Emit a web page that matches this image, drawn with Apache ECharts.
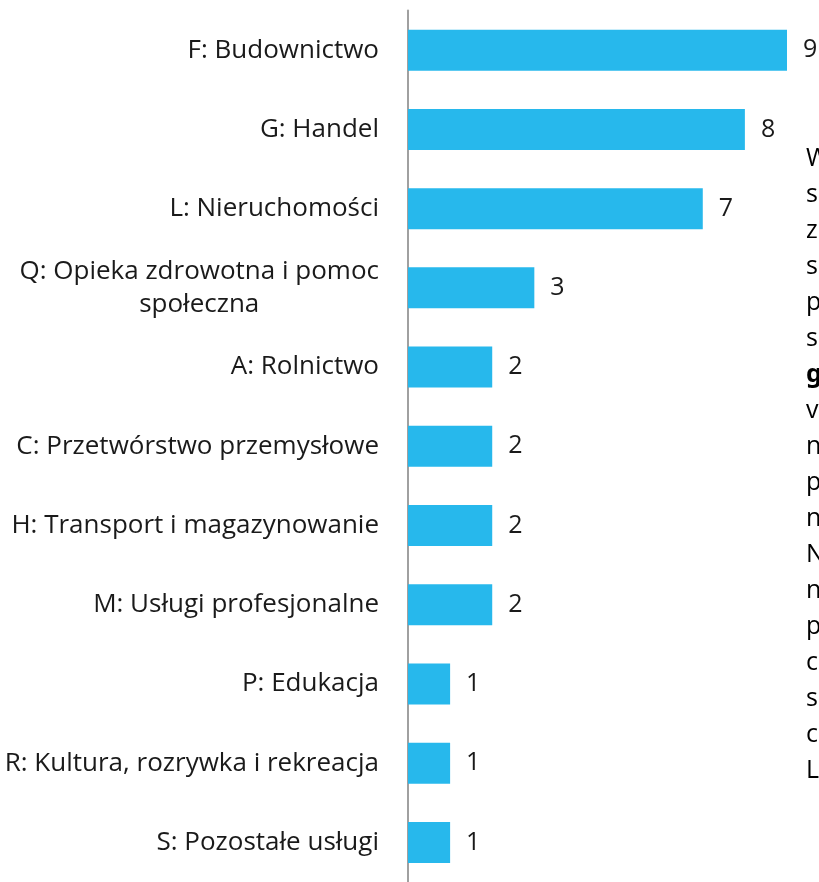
<!DOCTYPE html>
<html>
<head>
<meta charset="utf-8">
<script src="https://cdn.jsdelivr.net/npm/echarts@6/dist/echarts.min.js"></script>
<style>
  html, body { margin: 0; padding: 0; background: #fff; }
  #chart { width: 819px; height: 882px; }
</style>
</head>
<body>
<div id="chart"></div>
<script>
// sekcje PKD i liczba podmiotów
const categories = [
  'F: Budownictwo',
  'G: Handel',
  'L: Nieruchomości',
  'Q: Opieka zdrowotna i pomoc\nspołeczna',
  'A: Rolnictwo',
  'C: Przetwórstwo przemysłowe',
  'H: Transport i magazynowanie',
  'M: Usługi profesjonalne',
  'P: Edukacja',
  'R: Kultura, rozrywka i rekreacja',
  'S: Pozostałe usługi'
];
const counts = [9, 8, 7, 3, 2, 2, 2, 2, 1, 1, 1];

// ucięty tekst dokumentu po prawej stronie
const sideLines = ['W', 's', 'z', 's', 'p', 's', 'g', 'v', 'n', 'p', 'n', 'N', 'n', 'p', 'c', 's', 'c', 'L'];

const FONT = 'Open Sans';

const chart = echarts.init(document.getElementById('chart'));

const sideText = sideLines
  .map((t, i) => (i < 6 ? '{k|' + t + '}' : i === 6 ? '{b|' + t + '}' : '{n|' + t + '}'))
  .join('\n');

chart.setOption({
  animation: false,
  grid: { left: 408, right: 32, top: 10.6, bottom: -6, containLabel: false },
  xAxis: {
    type: 'value',
    min: 0,
    max: 9,
    show: false
  },
  yAxis: {
    type: 'category',
    data: categories,
    inverse: true,
    axisLine: { show: true, lineStyle: { color: '#a0a0a0', width: 2 } },
    axisTick: { show: false },
    axisLabel: {
      margin: 29,
      fontFamily: FONT,
      fontSize: 26,
      color: '#1a1a1a',
      lineHeight: 33,
      formatter: (v) => v.split('\n').map((s) => '{c|' + s + '}').join('\n'),
      rich: {
        c: { align: 'center', fontFamily: FONT, fontSize: 26, color: '#1a1a1a', lineHeight: 33 }
      }
    }
  },
  series: [
    {
      type: 'bar',
      data: counts,
      barWidth: 41,
      itemStyle: { color: '#27b8ec' },
      label: {
        show: true,
        position: 'right',
        distance: 16,
        fontFamily: FONT,
        fontSize: 25,
        color: '#1a1a1a'
      }
    }
  ],
  graphic: [
    {
      type: 'text',
      left: 806,
      top: 141,
      style: {
        text: sideText,
        fontFamily: FONT,
        fontSize: 25,
        lineHeight: 36,
        rich: {
          k: { fontFamily: FONT, fontSize: 25, color: '#1a1a1a', lineHeight: 36 },
          b: { fontFamily: 'Noto Sans', fontSize: 25, fontWeight: 'bold', color: '#1f3a6e', lineHeight: 36 },
          n: { fontFamily: FONT, fontSize: 25, color: '#1f3a6e', lineHeight: 36 }
        }
      }
    }
  ]
});
</script>
</body>
</html>
